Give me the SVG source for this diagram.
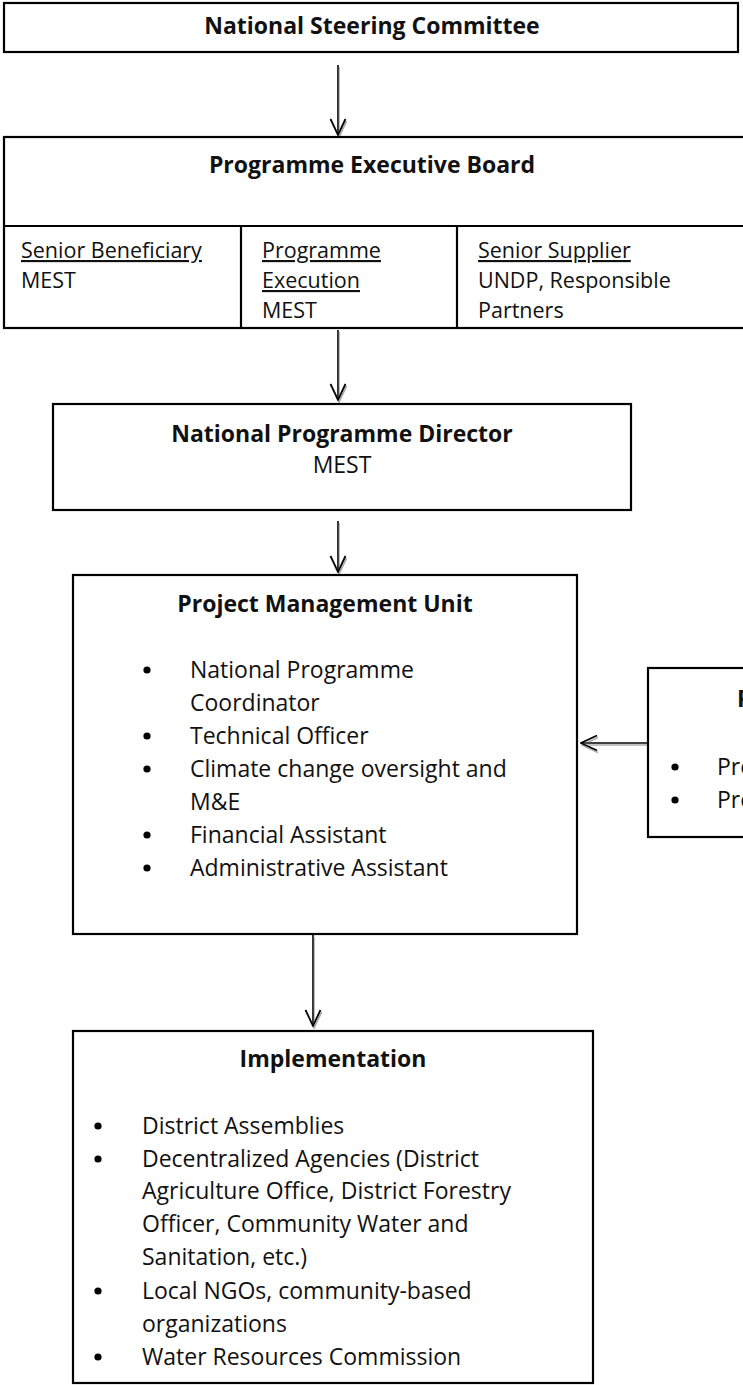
<svg xmlns="http://www.w3.org/2000/svg" width="743" height="1385" viewBox="0 0 743 1385">
<style>
.box{fill:#fff;stroke:#000;stroke-width:2.2}
.t{font-family:"Open Sans","Noto Sans",sans-serif;font-size:23px;fill:#111}
.s{font-size:21.5px}
.b{font-weight:bold}
.c{text-anchor:middle}
.u{text-decoration:underline}
.conn{stroke:#000;stroke-width:1.6;fill:none}
.dot{fill:#000}
</style>
<defs>
<marker id="arr" markerUnits="userSpaceOnUse" viewBox="0 0 18 18" refX="17" refY="9" markerWidth="18" markerHeight="18" orient="auto">
<path d="M1,1.5 L17,9 L1,16.5" fill="none" stroke="#000" stroke-width="1.8"/>
</marker>
<filter id="sh" x="-20%" y="-20%" width="140%" height="140%">
<feDropShadow dx="1" dy="2" stdDeviation="0.6" flood-color="#888" flood-opacity="0.7"/>
</filter>
</defs>
<rect width="743" height="1385" fill="#fff"/>

<g id="connectors" filter="url(#sh)">
<line class="conn" x1="338" y1="65" x2="338" y2="135" marker-end="url(#arr)"/>
<line class="conn" x1="338" y1="330" x2="338" y2="400" marker-end="url(#arr)"/>
<line class="conn" x1="338" y1="521" x2="338" y2="572" marker-end="url(#arr)"/>
<line class="conn" x1="313" y1="935" x2="313" y2="1026" marker-end="url(#arr)"/>
<line class="conn" x1="648" y1="743" x2="581" y2="743" marker-end="url(#arr)"/>
</g>

<g id="national-steering-committee">
<rect class="box" x="4" y="3" width="734" height="49"/>
<text class="t b c" x="372" y="34">National Steering Committee</text>
</g>

<g id="programme-executive-board">
<rect class="box" x="4" y="137" width="760" height="191"/>
<line class="box" x1="4" y1="226" x2="764" y2="226"/>
<line class="box" x1="241" y1="226" x2="241" y2="328"/>
<line class="box" x1="457" y1="226" x2="457" y2="328"/>
<text class="t b c" x="372" y="173">Programme Executive Board</text>
<text class="t s u" x="21" y="258">Senior Beneficiary</text>
<text class="t s" x="21" y="288">MEST</text>
<text class="t s u" x="262" y="258">Programme</text>
<text class="t s u" x="262" y="288">Execution</text>
<text class="t s" x="262" y="318">MEST</text>
<text class="t s u" x="478" y="258">Senior Supplier</text>
<text class="t s" x="478" y="288">UNDP, Responsible</text>
<text class="t s" x="478" y="318">Partners</text>
</g>

<g id="national-programme-director">
<rect class="box" x="53" y="404" width="578" height="106"/>
<text class="t b c" x="342" y="442">National Programme Director</text>
<text class="t c" x="342" y="473">MEST</text>
</g>

<g id="project-management-unit">
<rect class="box" x="73" y="575" width="504" height="359"/>
<text class="t b c" x="325" y="612">Project Management Unit</text>
<circle class="dot" cx="147" cy="670" r="3.6"/>
<text class="t" x="190" y="678">National Programme</text>
<text class="t" x="190" y="711">Coordinator</text>
<circle class="dot" cx="147" cy="736" r="3.6"/>
<text class="t" x="190" y="744">Technical Officer</text>
<circle class="dot" cx="147" cy="769" r="3.6"/>
<text class="t" x="190" y="777">Climate change oversight and</text>
<text class="t" x="190" y="810">M&amp;E</text>
<circle class="dot" cx="147" cy="835" r="3.6"/>
<text class="t" x="190" y="843">Financial Assistant</text>
<circle class="dot" cx="147" cy="868" r="3.6"/>
<text class="t" x="190" y="876">Administrative Assistant</text>
</g>

<g id="project-assurance">
<rect class="box" x="648" y="668" width="260" height="169"/>
<text class="t b" x="737" y="707">Project Assurance</text>
<circle class="dot" cx="675" cy="767" r="3.6"/>
<text class="t" x="717" y="775">Programme Officer</text>
<circle class="dot" cx="675" cy="800" r="3.6"/>
<text class="t" x="717" y="808">Programme Analyst</text>
</g>

<g id="implementation">
<rect class="box" x="73" y="1031" width="520" height="352"/>
<text class="t b c" x="333" y="1067">Implementation</text>
<circle class="dot" cx="98" cy="1126" r="3.6"/>
<text class="t" x="142" y="1134">District Assemblies</text>
<circle class="dot" cx="98" cy="1159" r="3.6"/>
<text class="t" x="142" y="1167">Decentralized Agencies (District</text>
<text class="t" x="142" y="1199">Agriculture Office, District Forestry</text>
<text class="t" x="142" y="1232">Officer, Community Water and</text>
<text class="t" x="142" y="1265">Sanitation, etc.)</text>
<circle class="dot" cx="98" cy="1291" r="3.6"/>
<text class="t" x="142" y="1299">Local NGOs, community-based</text>
<text class="t" x="142" y="1332">organizations</text>
<circle class="dot" cx="98" cy="1357" r="3.6"/>
<text class="t" x="142" y="1365">Water Resources Commission</text>
</g>
</svg>
